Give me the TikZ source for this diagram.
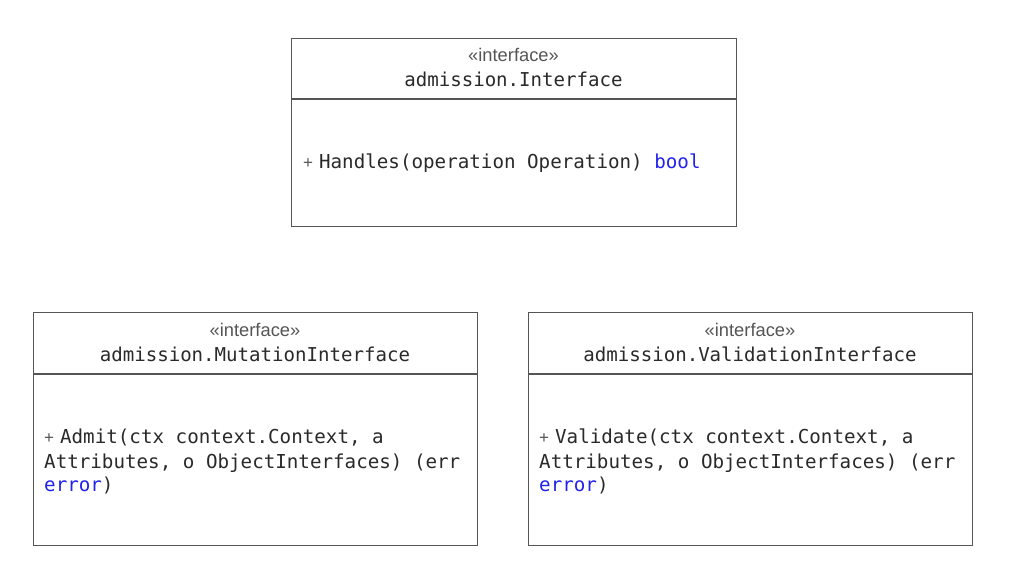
\documentclass[tikz,border=0pt]{standalone}
\usepackage{fontspec}
\setmainfont{Liberation Sans}
\setmonofont{DejaVu Sans Mono}
\definecolor{boxline}{HTML}{555555}
\definecolor{txt}{HTML}{2A2A2A}
\definecolor{stereo}{HTML}{555555}
\definecolor{kw}{HTML}{2222EE}
\begin{document}
\begin{tikzpicture}[x=1pt,y=-1pt,
  umlbox/.style={draw=boxline, line width=1.3pt, rectangle, inner sep=0pt, anchor=north west},
  sep/.style={draw=boxline, line width=1.3pt},
  stereotype/.style={font=\fontsize{18.3}{20}\selectfont, text=stereo, inner sep=0pt, anchor=base},
  cname/.style={font=\fontsize{19.1}{22}\selectfont\ttfamily, text=txt, inner sep=0pt, anchor=base},
  member/.style={font=\fontsize{19.2}{24.5}\selectfont\ttfamily, text=txt, inner sep=0pt, anchor=base west}
]
\useasboundingbox[fill=white] (0,0) rectangle (1009,566);
\newcommand{\pls}{{\rmfamily\fontsize{17}{17}\selectfont\textcolor{stereo}{+}}\hspace{6pt}}

% top box
\node[umlbox, minimum width=445pt, minimum height=188pt] (top) at (291,38) {};
\draw[sep] (291,99) -- (736,99);
\node[stereotype] (topst) at (513.5,61) {«interface»};
\node[cname] (topn) at (513.5,86) {admission.Interface};
\node[member] (topm) at (303,168) {\pls Handles(operation Operation) \textcolor{kw}{bool}};

% left box
\node[umlbox, minimum width=444pt, minimum height=233pt] (mut) at (33,312) {};
\draw[sep] (33,374) -- (477,374);
\node[stereotype] (mutst) at (255,336) {«interface»};
\node[cname] (mutn) at (255,361) {admission.MutationInterface};
\node[member] (mutm1) at (44,443) {\pls Admit(ctx context.Context, a};
\node[member] (mutm2) at (44,468) {Attributes, o ObjectInterfaces) (err};
\node[member] (mutm3) at (44,491) {\textcolor{kw}{error})};

% right box
\node[umlbox, minimum width=444pt, minimum height=233pt] (val) at (528,312) {};
\draw[sep] (528,374) -- (972,374);
\node[stereotype] (valst) at (750,336) {«interface»};
\node[cname] (valn) at (750,361) {admission.ValidationInterface};
\node[member] (valm1) at (539,443) {\pls Validate(ctx context.Context, a};
\node[member] (valm2) at (539,468) {Attributes, o ObjectInterfaces) (err};
\node[member] (valm3) at (539,491) {\textcolor{kw}{error})};
\end{tikzpicture}
\end{document}
